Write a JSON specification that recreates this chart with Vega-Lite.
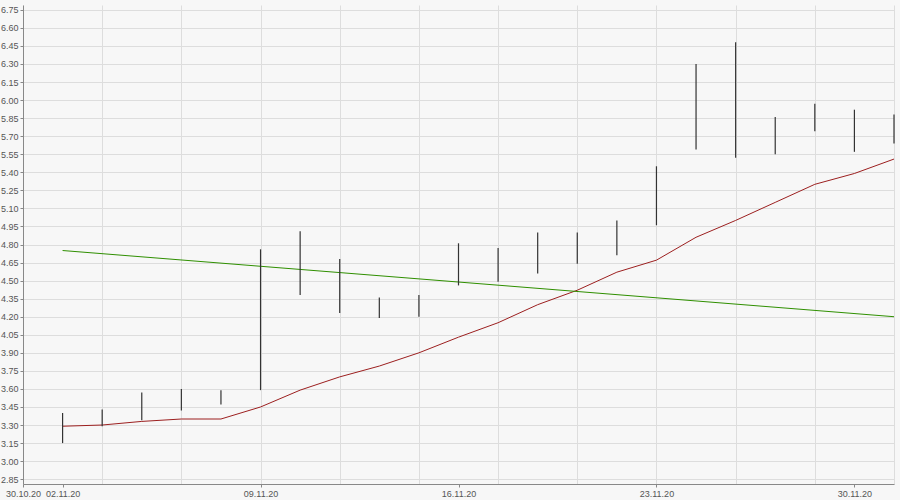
{
  "$schema": "https://vega.github.io/schema/vega-lite/v6.json",
  "width": 871,
  "height": 479,
  "autosize": {"type": "none"},
  "padding": {"left": 23, "top": 5, "right": 6, "bottom": 16},
  "background": "#f7f7f7",
  "config": {"view": {"stroke": null, "fill": "#f7f7f7"}, "font": "Liberation Sans"},
  "datasets": {
    "days": [
      {"i": 1, "date": "02.11.20", "low": 3.15, "high": 3.40, "ma": 3.29},
      {"i": 2, "date": "03.11.20", "low": 3.29, "high": 3.43, "ma": 3.30},
      {"i": 3, "date": "04.11.20", "low": 3.34, "high": 3.57, "ma": 3.33},
      {"i": 4, "date": "05.11.20", "low": 3.42, "high": 3.60, "ma": 3.35},
      {"i": 5, "date": "06.11.20", "low": 3.47, "high": 3.59, "ma": 3.35},
      {"i": 6, "date": "09.11.20", "low": 3.59, "high": 4.76, "ma": 3.45},
      {"i": 7, "date": "10.11.20", "low": 4.38, "high": 4.91, "ma": 3.59},
      {"i": 8, "date": "11.11.20", "low": 4.23, "high": 4.68, "ma": 3.70},
      {"i": 9, "date": "12.11.20", "low": 4.19, "high": 4.36, "ma": 3.79},
      {"i": 10, "date": "13.11.20", "low": 4.20, "high": 4.38, "ma": 3.90},
      {"i": 11, "date": "16.11.20", "low": 4.46, "high": 4.81, "ma": 4.03},
      {"i": 12, "date": "17.11.20", "low": 4.49, "high": 4.77, "ma": 4.15},
      {"i": 13, "date": "18.11.20", "low": 4.56, "high": 4.90, "ma": 4.30},
      {"i": 14, "date": "19.11.20", "low": 4.64, "high": 4.90, "ma": 4.42},
      {"i": 15, "date": "20.11.20", "low": 4.71, "high": 5.00, "ma": 4.57},
      {"i": 16, "date": "23.11.20", "low": 4.96, "high": 5.45, "ma": 4.67},
      {"i": 17, "date": "24.11.20", "low": 5.59, "high": 6.30, "ma": 4.86},
      {"i": 18, "date": "25.11.20", "low": 5.52, "high": 6.48, "ma": 5.00},
      {"i": 19, "date": "26.11.20", "low": 5.55, "high": 5.86, "ma": 5.15},
      {"i": 20, "date": "27.11.20", "low": 5.74, "high": 5.97, "ma": 5.30},
      {"i": 21, "date": "30.11.20", "low": 5.57, "high": 5.92, "ma": 5.39},
      {"i": 22, "date": "01.12.20", "low": 5.64, "high": 5.88, "ma": 5.51}
    ],
    "trend": [
      {"i": 1, "v": 4.75},
      {"i": 22, "v": 4.20}
    ]
  },
  "resolve": {"axis": {"x": "independent", "y": "independent"}},
  "layer": [
    {
      "data": {"name": "days"},
      "mark": {"type": "line", "color": "#9c1f1f", "strokeWidth": 1},
      "encoding": {
        "x": {
          "field": "i", "type": "quantitative",
          "scale": {"domain": [0, 22], "nice": false, "zero": false},
          "axis": {"orient": "bottom", "values": [0, 2, 4, 6, 8, 10, 12, 14, 16, 18, 20, 22], "grid": true, "gridColor": "#dddddd", "labels": false, "ticks": false, "domain": false, "title": null}
        },
        "y": {
          "field": "ma", "type": "quantitative", "title": null,
          "scale": {"domain": [2.81, 6.79], "nice": false, "zero": false},
          "axis": {
            "orient": "left",
            "values": [2.85, 3.0, 3.15, 3.3, 3.45, 3.6, 3.75, 3.9, 4.05, 4.2, 4.35, 4.5, 4.65, 4.8, 4.95, 5.1, 5.25, 5.4, 5.55, 5.7, 5.85, 6.0, 6.15, 6.3, 6.45, 6.6, 6.75],
            "format": ".2f", "grid": true, "gridColor": "#dddddd",
            "domainColor": "#888888", "tickColor": "#888888", "tickSize": 3,
            "labelPadding": 2, "labelFontSize": 9, "labelColor": "#555555",
            "labelOverlap": false, "labelFlush": false, "labelBound": false, "title": null
          }
        }
      }
    },
    {
      "data": {"name": "trend"},
      "mark": {"type": "line", "color": "#2f8f00", "strokeWidth": 1},
      "encoding": {
        "x": {"field": "i", "type": "quantitative", "axis": null},
        "y": {"field": "v", "type": "quantitative", "title": null, "axis": null}
      }
    },
    {
      "data": {"name": "days"},
      "mark": {"type": "rule", "color": "#333333", "strokeWidth": 1.2},
      "encoding": {
        "x": {
          "field": "i", "type": "quantitative",
          "axis": {
            "orient": "bottom",
            "values": [0, 1, 6, 11, 16, 21], "grid": false, "title": null,
            "labelExpr": "datum.value == 0 ? '30.10.20' : datum.value == 1 ? '02.11.20' : datum.value == 6 ? '09.11.20' : datum.value == 11 ? '16.11.20' : datum.value == 16 ? '23.11.20' : '30.11.20'",
            "domainColor": "#888888", "tickColor": "#888888", "tickSize": 3,
            "labelPadding": 2, "labelFontSize": 9, "labelColor": "#555555",
            "labelOverlap": false, "labelFlush": false
          }
        },
        "y": {"field": "low", "type": "quantitative", "title": null, "axis": null},
        "y2": {"field": "high"}
      }
    }
  ]
}
